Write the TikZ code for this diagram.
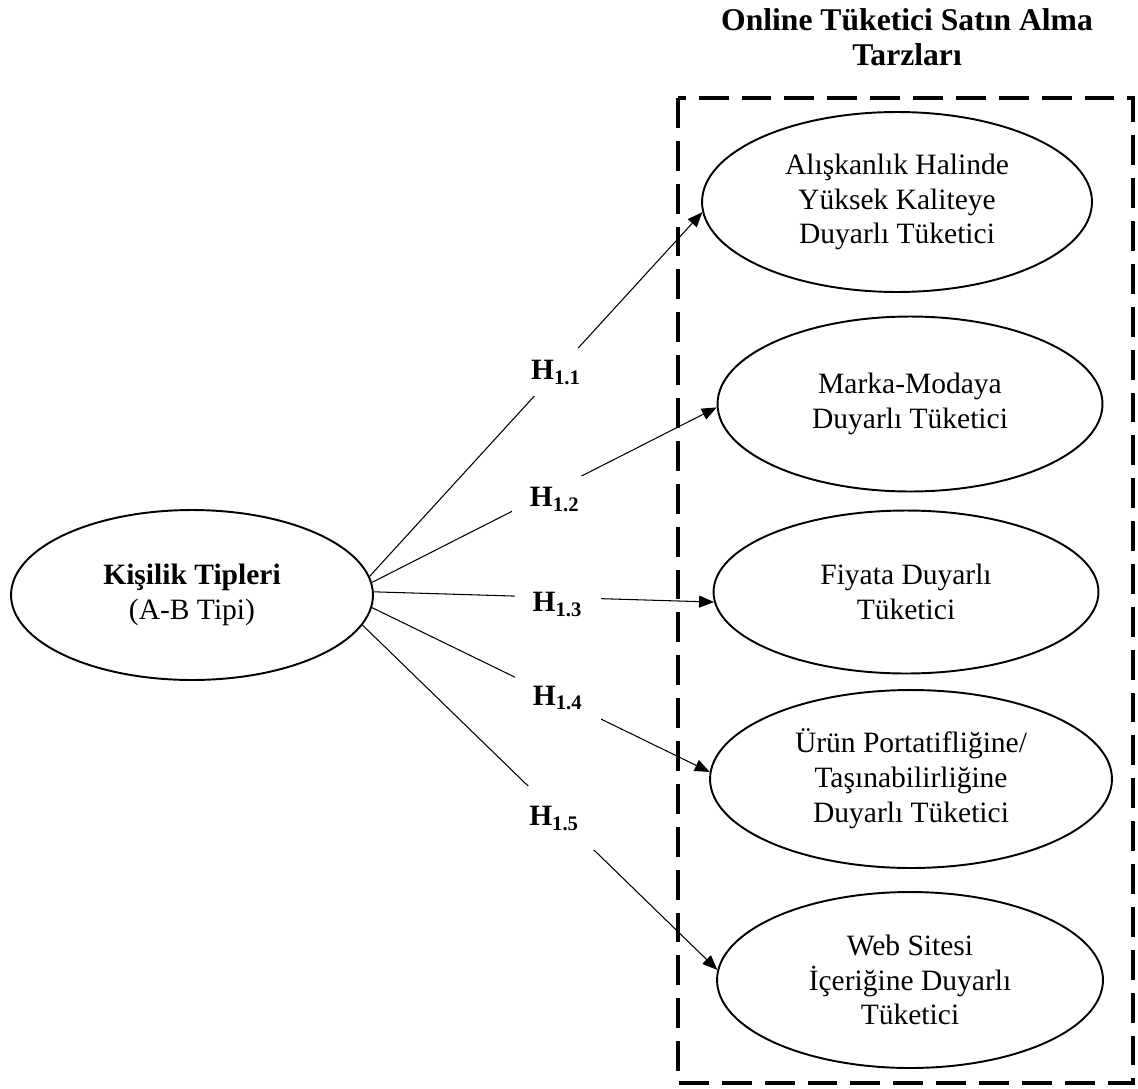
\documentclass[tikz,border=0pt]{standalone}
\usepackage{fontspec}
\setmainfont{Liberation Serif}
\usetikzlibrary{arrows.meta, shapes.geometric}
\tikzset{
  konstrukt/.style={ellipse, draw, line width=1.1pt, align=center, inner sep=0pt,
    font=\fontsize{16.8}{19.8}\selectfont},
  hipotez/.style={fill=white, inner sep=0pt, minimum width=1.72cm, minimum height=0.96cm,
    font=\fontsize{16.8}{20}\selectfont\bfseries},
  baslik/.style={align=center, font=\fontsize{18}{19.8}\selectfont\bfseries},
  ok/.style={-{Triangle[length=8.5pt, width=6.8pt]}, line width=0.6pt},
  cerceve/.style={dash pattern=on 17pt off 7.4pt, line width=2.3pt},
}
\begin{document}
\begin{tikzpicture}[x=0.02cm, y=-0.02cm]
  \useasboundingbox (0,0) rectangle (1138,1088);

  % bagimsiz degisken
  \node[konstrukt, minimum width=7.24cm, minimum height=3.4cm] (kisilik) at (192,595)
    {\textbf{Kişilik Tipleri}\\(A-B Tipi)};

  % online satin alma tarzlari
  \node[baslik] (baslik) at (907,37) {Online Tüketici Satın Alma\\Tarzları};
  \node[konstrukt, minimum width=7.8cm, minimum height=3.6cm] (aliskanlik) at (897,202)
    {Alışkanlık Halinde\\Yüksek Kaliteye\\Duyarlı Tüketici};
  \node[konstrukt, minimum width=7.7cm, minimum height=3.5cm] (marka) at (910,404)
    {Marka-Modaya\\Duyarlı Tüketici};
  \node[konstrukt, minimum width=7.7cm, minimum height=3.26cm] (fiyat) at (906,592)
    {Fiyata Duyarlı\\Tüketici};
  \node[konstrukt, minimum width=8.04cm, minimum height=3.56cm] (portatif) at (911,779)
    {Ürün Portatifliğine/\\Taşınabilirliğine\\Duyarlı Tüketici};
  \node[konstrukt, minimum width=7.72cm, minimum height=3.52cm] (web) at (910,980)
    {Web Sitesi\\İçeriğine Duyarlı\\Tüketici};
  \draw[cerceve] (678,98) rectangle (1133,1083);

  % hipotezler
  \draw[ok] (kisilik.6) -- node[hipotez, pos=0.56] (h11) {H\textsubscript{1.1}} (aliskanlik.183);
  \draw[ok] (kisilik.4) -- node[hipotez, pos=0.53, yshift=-0.2cm] (h12) {H\textsubscript{1.2}} (marka.181);
  \draw[ok] (kisilik.1) -- node[hipotez, pos=0.54, yshift=-0.14cm, minimum height=1.1cm] (h13) {H\textsubscript{1.3}} (fiyat.183);
  \draw[ok] (kisilik.-4) -- node[hipotez, pos=0.55] (h14) {H\textsubscript{1.4}} (portatif.178);
  \draw[ok] (kisilik.-10) -- node[hipotez, pos=0.54, yshift=-0.14cm, minimum width=1.7cm, minimum height=1.28cm] (h15) {H\textsubscript{1.5}} (web.177);
\end{tikzpicture}
\end{document}
